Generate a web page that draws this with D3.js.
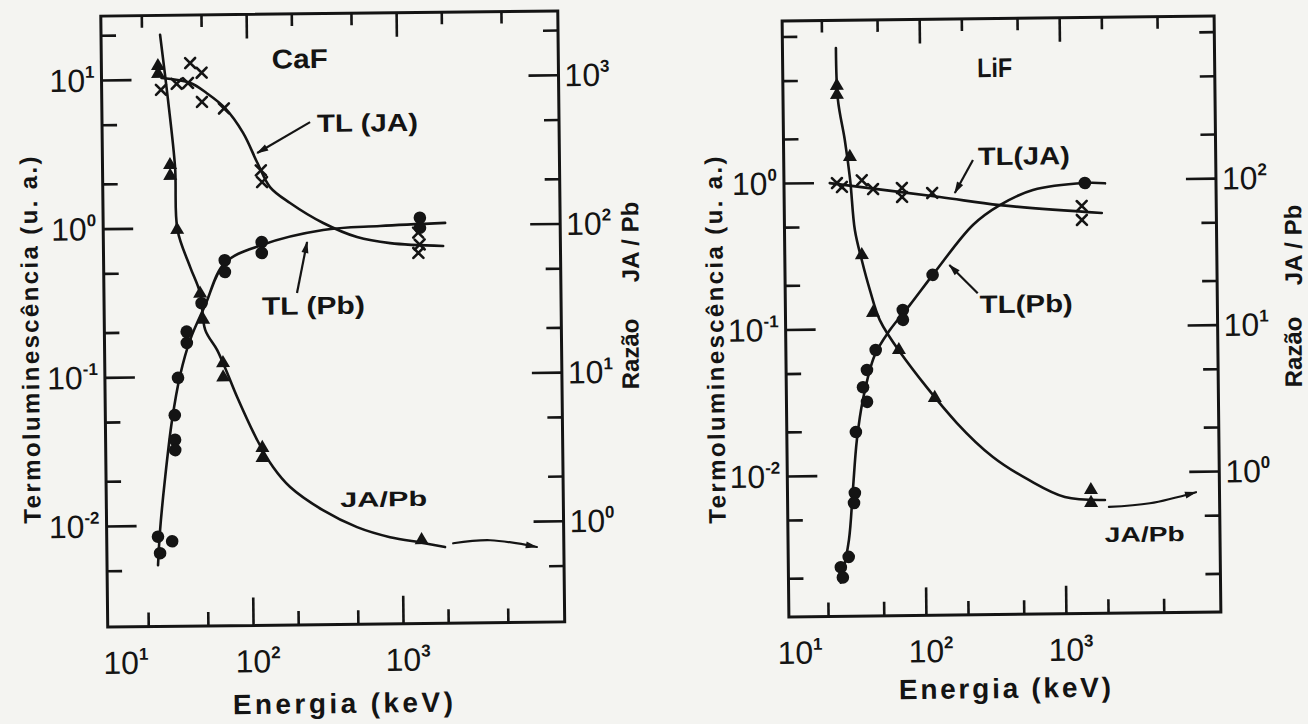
<!DOCTYPE html>
<html>
<head>
<meta charset="utf-8">
<title>Termoluminescência – CaF e LiF</title>
<script src="https://cdn.jsdelivr.net/npm/d3@7/dist/d3.min.js"></script>
<style>
  html, body { margin: 0; padding: 0; background: #f4f4f1; overflow: hidden; }
  svg { display: block; }
</style>
</head>
<body>
<svg id="fig" width="1308" height="724"></svg>
<script>
// ---------- shared energy axis (keV) ----------
const energyLabelTicks = [10, 100, 1000];
const energyMinorTicks = [20, 50, 200, 500, 2000, 5000];

// ---------- CaF panel ----------
const cafTLLabelTicks = [10, 1, 0.1, 0.01];
const cafTLMinorTicks = [20, 5, 2, 0.5, 0.2, 0.05, 0.02, 0.005];
const cafRatioLabelTicks = [1000, 100, 10, 1];
const cafRatioMinorTicks = [2000, 500, 200, 50, 20, 5, 2, 0.5];

// TL response with the JA dosimeter (crosses), [keV, u.a.]
const cafTLJA = [[26.7, 8.5], [34, 9.3], [40.5, 9.4], [42, 12.8], [50, 11.0], [50, 7.0],
  [70, 6.3], [122, 2.4], [124, 2.0], [1350, 0.89], [1380, 0.74], [1350, 0.65]];
const cafTLJACurve = [[27, 10.2], [42, 9.4], [54, 8.0], [71, 6.35], [93.5, 4.3], [116, 2.69],
  [140, 1.85], [190, 1.44], [315, 1.05], [528, 0.84], [877, 0.76], [1977, 0.72]];

// TL response with the Pb filter (circles), [keV, u.a.]
const cafTLPb = [[23.6, 0.0084], [29.3, 0.0078], [24.3, 0.0065], [31.2, 0.0375], [31.2, 0.032],
  [31.2, 0.055], [33, 0.098], [38, 0.168], [38, 0.2], [48, 0.31], [69, 0.6], [69, 0.5],
  [122, 0.79], [122, 0.667], [1390, 1.12], [1390, 0.96]];
const cafTLPbCurve = [[23.5, 0.0054], [24.4, 0.0093], [26.5, 0.0202], [29.9, 0.051], [34.1, 0.102],
  [40, 0.176], [50.7, 0.30], [69, 0.575], [122, 0.755], [314, 0.942], [753, 0.993], [2046, 1.03]];

// JA/Pb ratio (triangles, right axis)
const cafRatio = [[25.6, 1230], [25.6, 1090], [30.3, 265], [30.3, 224], [33.4, 97], [47, 36],
  [49, 24], [66, 12.2], [66, 9.8], [119, 3.26], [119, 2.79], [1350, 0.76]];
const cafRatioCurve = [[26.6, 1990], [29.7, 726], [32.7, 257], [33.6, 96.6], [40.5, 54.5], [47, 36.3],
  [50.5, 20.5], [60.4, 15], [70.2, 10.5], [81.5, 7.2], [110, 3.69], [139.7, 2.42], [181, 1.77],
  [298, 1.23], [502, 0.94], [832, 0.80], [1380, 0.728], [1932, 0.68]];
const cafRatioTail = [[2190, 0.72], [3860, 0.75], [7900, 0.67]];

// ---------- LiF panel ----------
const lifTLLabelTicks = [1, 0.1, 0.01];
const lifTLMinorTicks = [10, 5, 2, 0.5, 0.2, 0.05, 0.02, 0.005, 0.002];
const lifRatioLabelTicks = [100, 10, 1];
const lifRatioMinorTicks = [1000, 500, 200, 50, 20, 5, 2, 0.5, 0.2];

const lifTLJA = [[25.1, 0.99], [27.2, 0.93], [37.8, 1.03], [45.4, 0.895], [73, 0.906], [73, 0.787],
  [120, 0.833], [1400, 0.661], [1400, 0.531]];
const lifTLJACurve = [[22.3, 0.99], [136, 0.78], [365, 0.68], [1945, 0.59]];

const lifTLPb = [[1480, 0.948], [119, 0.23], [72.4, 0.133], [72.4, 0.114], [46, 0.0713],
  [39.7, 0.0522], [37.1, 0.0398], [39.5, 0.0316], [32.7, 0.0197], [31.8, 0.00756],
  [31.3, 0.00646], [28.4, 0.00277], [24.9, 0.00236], [25.7, 0.00201]];
const lifTLPbCurve = [[24.8, 0.00185], [28.6, 0.00362], [30.8, 0.00794], [33.2, 0.0174], [36.9, 0.0326],
  [45.3, 0.0659], [58.3, 0.0973], [81.5, 0.144], [123.6, 0.24], [233, 0.5], [364, 0.68],
  [629, 0.857], [1483, 0.948], [2061, 0.94]];

const lifRatio = [[25.5, 456], [25.5, 396], [31.2, 149], [37.3, 31.8], [44.3, 12.8], [67.4, 7.1],
  [120.5, 3.32], [1545, 0.76], [1545, 0.62]];
const lifRatioCurve = [[25.3, 828], [25.9, 366], [28.8, 194], [31.2, 104], [33.4, 47.2], [37.2, 29.4],
  [42.3, 18.3], [49.5, 11.4], [68.5, 6.88], [172.6, 2.23], [310, 1.3], [557, 0.9], [1005, 0.684],
  [1941, 0.648]];
const lifRatioTail = [[2070, 0.58], [4060, 0.61], [8690, 0.72]];

// ---------- drawing ----------
const ink = "#141414";
const boldFont = "'Liberation Sans', Arial, sans-serif";
const svg = d3.select("#fig");

const defs = svg.append("defs");
defs.append("marker")
  .attr("id", "head")
  .attr("viewBox", "0 0 12 8")
  .attr("refX", 11).attr("refY", 4)
  .attr("markerWidth", 13).attr("markerHeight", 8)
  .attr("markerUnits", "userSpaceOnUse")
  .attr("orient", "auto")
  .append("path").attr("d", "M0,0.5L12,4L0,7.5Z").attr("fill", ink);

const panels = [
  {
    name: "CaF", left: 104.25, top: 13.5, w: 457, h: 611, tilt: -0.65,
    xDomain: [10.74, 11967], yDomain: [0.00209, 26.9], rDomain: [0.209, 2690],
    tlLabels: cafTLLabelTicks, tlMinor: cafTLMinorTicks,
    rLabels: cafRatioLabelTicks, rMinor: cafRatioMinorTicks,
    firstLabelCenter: 13,
    tlJA: cafTLJA, tlJACurve: cafTLJACurve, tlPb: cafTLPb, tlPbCurve: cafTLPbCurve,
    ratio: cafRatio, ratioCurve: cafRatioCurve, ratioTail: cafRatioTail,
    title: { text: "CaF", at: [226, 11.6], len: 56, size: 27 },
    noteJA: { text: "TL (JA)", at: [291, 4.3], len: 101, arrow: [[262, 5.02], [115.7, 3.14]] },
    notePb: { text: "TL (Pb)", at: [121, 0.256], len: 103, arrow: [[208, 0.357], [245, 0.785]] },
    noteRatio: { text: "JA/Pb", at: [389, 0.0129], len: 87 },
    xTitle: { at: [343, 713], len: 220 },
    yTitle: { at: [30, 340], len: 367 },
    rTitleJA: [630, 242], rTitleRazao: [630, 354]
  },
  {
    name: "LiF", left: 785.5, top: 18.5, w: 432, h: 596, tilt: -0.65,
    xDomain: [10.5, 12794], yDomain: [0.00109, 12.78], rDomain: [0.109, 1278],
    tlLabels: lifTLLabelTicks, tlMinor: lifTLMinorTicks,
    rLabels: lifRatioLabelTicks, rMinor: lifRatioMinorTicks,
    firstLabelCenter: 6,
    tlJA: lifTLJA, tlJACurve: lifTLJACurve, tlPb: lifTLPb, tlPbCurve: lifTLPbCurve,
    ratio: lifRatio, ratioCurve: lifRatioCurve, ratioTail: lifRatioTail,
    title: { text: "LiF", at: [343, 5.1], len: 35, size: 27 },
    noteJA: { text: "TL(JA)", at: [256, 1.28], len: 92, arrow: [[236, 1.39], [174, 0.83]] },
    notePb: { text: "TL(Pb)", at: [257, 0.125], len: 93, arrow: [[249, 0.171], [157, 0.268]] },
    noteRatio: { text: "JA/Pb", at: [1923, 0.00335], len: 80 },
    xTitle: { at: [1005, 698], len: 212 },
    yTitle: { at: [715, 340], len: 367 },
    rTitleJA: [1293, 245], rTitleRazao: [1293, 352]
  }
];

function expText(v) {
  const e = Math.round(Math.log10(v));
  return e < 0 ? "-" + (-e) : String(e);
}

// "10" with a raised exponent
function powerLabel(g, px, py, v, anchor) {
  const t = g.append("text")
    .attr("x", px).attr("y", py)
    .attr("text-anchor", anchor)
    .attr("fill", ink)
    .style("font-family", "'Liberation Sans', Arial, sans-serif")
    .style("font-size", "32px");
  t.append("tspan").text("10");
  t.append("tspan").attr("dy", -14)
    .style("font-size", "17px").style("font-weight", "bold")
    .text(expText(v));
  return t;
}

function drawPanel(p) {
  const cx = p.left + p.w / 2, cy = p.top + p.h / 2;
  const rad = p.tilt * Math.PI / 180;
  // page position -> unrotated panel coordinates
  const toLocal = (ax, ay) => {
    const dx = ax - cx, dy = ay - cy;
    const x0 = dx * Math.cos(rad) + dy * Math.sin(rad);
    const y0 = -dx * Math.sin(rad) + dy * Math.cos(rad);
    return [cx + x0 - p.left, cy + y0 - p.top];
  };

  const g = svg.append("g")
    .attr("transform", `rotate(${p.tilt},${cx},${cy}) translate(${p.left},${p.top})`);

  const x = d3.scaleLog().domain(p.xDomain).range([0, p.w]);
  const y = d3.scaleLog().domain(p.yDomain).range([p.h, 0]);
  const yr = d3.scaleLog().domain(p.rDomain).range([p.h, 0]);

  const xIn = energyLabelTicks.filter(v => v >= p.xDomain[0] && v <= p.xDomain[1]);

  const styleAxis = s => {
    s.select(".domain").remove();
    s.selectAll("line").attr("stroke", ink).attr("stroke-width", 2.6);
  };
  const axes = [
    [d3.axisBottom(x), xIn, 28, `translate(0,${p.h})`],
    [d3.axisBottom(x), energyMinorTicks, 14, `translate(0,${p.h})`],
    [d3.axisTop(x), xIn, 24, null],
    [d3.axisTop(x), energyMinorTicks, 12, null],
    [d3.axisLeft(y), p.tlLabels, 30, null],
    [d3.axisLeft(y), p.tlMinor, 15, null],
    [d3.axisRight(yr), p.rLabels, 30, `translate(${p.w},0)`],
    [d3.axisRight(yr), p.rMinor, 15, `translate(${p.w},0)`]
  ];
  axes.forEach(([ax, vals, len, tr]) => {
    const a = g.append("g");
    if (tr) a.attr("transform", tr);
    a.call(ax.tickValues(vals).tickSize(-len).tickFormat("")).call(styleAxis);
  });

  // frame
  g.append("rect").attr("width", p.w).attr("height", p.h)
    .attr("fill", "none").attr("stroke", ink).attr("stroke-width", 3);

  // tick labels
  energyLabelTicks.forEach(v => {
    let c = x(v);
    if (c < p.firstLabelCenter) c = p.firstLabelCenter;
    powerLabel(g, c - 17.8, p.h + 47, v, "start");
  });
  p.tlLabels.forEach(v => powerLabel(g, -7, y(v) + 11.5, v, "end"));
  p.rLabels.forEach(v => powerLabel(g, p.w + 6, yr(v) + 11.5, v, "start"));

  // curves
  const lineTL = d3.line().x(d => x(d[0])).y(d => y(d[1])).curve(d3.curveCatmullRom.alpha(0.5));
  const lineR = d3.line().x(d => x(d[0])).y(d => yr(d[1])).curve(d3.curveCatmullRom.alpha(0.5));
  const stroke = s => s.attr("fill", "none").attr("stroke", ink).attr("stroke-width", 2.6)
    .attr("stroke-linecap", "round").attr("stroke-linejoin", "round");

  g.append("path").datum(p.tlJACurve).attr("d", lineTL).call(stroke);
  g.append("path").datum(p.tlPbCurve).attr("d", lineTL).call(stroke);
  g.append("path").datum(p.ratioCurve).attr("d", lineR).call(stroke);
  g.append("path").datum(p.ratioTail).attr("d", lineR).call(stroke).attr("stroke-width", 2.2)
    .attr("marker-end", "url(#head)");

  // markers
  g.append("g").selectAll("circle").data(p.tlPb).join("circle")
    .attr("cx", d => x(d[0])).attr("cy", d => y(d[1])).attr("r", 6.3).attr("fill", ink);
  const tri = d3.symbol(d3.symbolTriangle, 85);
  g.append("g").selectAll("path").data(p.ratio).join("path")
    .attr("transform", d => `translate(${x(d[0])},${yr(d[1])})`)
    .attr("d", tri).attr("fill", ink);
  g.append("g").selectAll("path").data(p.tlJA).join("path")
    .attr("transform", d => `translate(${x(d[0])},${y(d[1])})`)
    .attr("d", "M-5,-5L5,5M-5,5L5,-5")
    .attr("fill", "none").attr("stroke", ink).attr("stroke-width", 2.6).attr("stroke-linecap", "round");

  // annotations
  const noteText = (n, size, anchor) => g.append("text")
    .attr("x", x(n.at[0])).attr("y", y(n.at[1]))
    .attr("text-anchor", anchor)
    .attr("textLength", n.len).attr("lengthAdjust", "spacingAndGlyphs")
    .attr("fill", ink)
    .style("font-family", boldFont).style("font-weight", "bold").style("font-size", size + "px")
    .text(n.text);

  noteText(p.title, p.title.size, "start")
    .attr("x", x(p.title.at[0]) - p.title.len / 2);
  noteText(p.noteJA, 25, "start");
  noteText(p.notePb, 25, "start");
  noteText(p.noteRatio, 21, "start");

  [p.noteJA.arrow, p.notePb.arrow].forEach(a => {
    g.append("line")
      .attr("x1", x(a[0][0])).attr("y1", y(a[0][1]))
      .attr("x2", x(a[1][0])).attr("y2", y(a[1][1]))
      .attr("stroke", ink).attr("stroke-width", 2.2)
      .attr("marker-end", "url(#head)");
  });

  // axis titles
  const xt = toLocal(p.xTitle.at[0], p.xTitle.at[1]);
  g.append("text").attr("x", xt[0]).attr("y", xt[1])
    .attr("text-anchor", "middle")
    .attr("textLength", p.xTitle.len).attr("lengthAdjust", "spacing")
    .attr("fill", ink)
    .style("font-family", boldFont).style("font-weight", "bold").style("font-size", "28px")
    .text("Energia (keV)");

  const yt = toLocal(p.yTitle.at[0], p.yTitle.at[1]);
  g.append("text")
    .attr("transform", `translate(${yt[0]},${yt[1]}) rotate(-90)`)
    .attr("text-anchor", "middle").attr("dy", "0.36em")
    .attr("textLength", p.yTitle.len).attr("lengthAdjust", "spacing")
    .attr("fill", ink)
    .style("font-family", boldFont).style("font-weight", "bold").style("font-size", "24px")
    .text("Termoluminescência  (u. a.)");

  [[p.rTitleJA, "JA / Pb"], [p.rTitleRazao, "Razão"]].forEach(([pos, txt]) => {
    const q = toLocal(pos[0], pos[1]);
    g.append("text")
      .attr("transform", `translate(${q[0]},${q[1]}) rotate(-90)`)
      .attr("text-anchor", "middle").attr("dy", "0.36em")
      .attr("fill", ink)
      .style("font-family", boldFont).style("font-weight", "bold").style("font-size", "24px")
      .text(txt);
  });
}

panels.forEach(drawPanel);
</script>
</body>
</html>
